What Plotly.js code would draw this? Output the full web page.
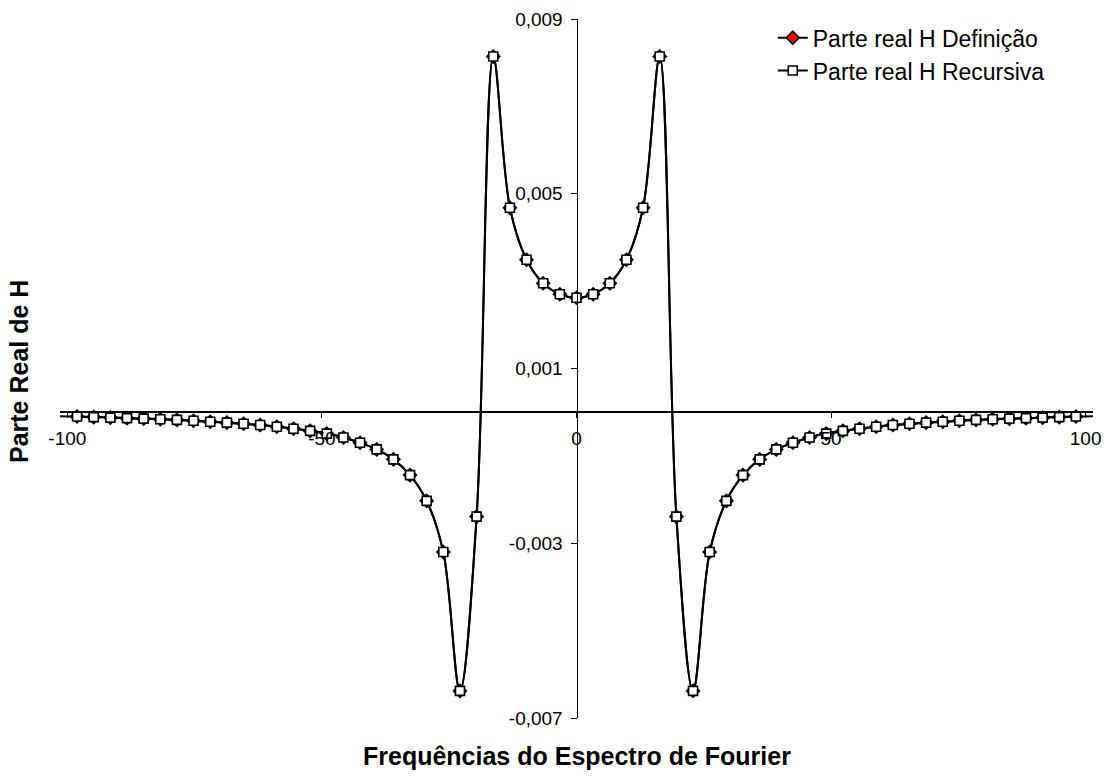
<!DOCTYPE html>
<html>
<head>
<meta charset="utf-8">
<script src="https://cdn.plot.ly/plotly-3.0.1.min.js"></script>
<style>html,body{margin:0;padding:0;background:#fff;}#chart{width:1112px;height:776px;}</style>
</head>
<body>
<div id="chart"></div>
<script>
// Frequencies (x) of the Fourier spectrum
const freq = [-98.1, -94.83, -91.56, -88.29, -85.02, -81.75, -78.48, -75.21, -71.94, -68.67,
  -65.4, -62.13, -58.86, -55.59, -52.32, -49.05, -45.78, -42.51, -39.24, -35.97,
  -32.7, -29.43, -26.16, -22.89, -19.62, -16.35, -13.08, -9.81, -6.54, -3.27,
  0,
  3.27, 6.54, 9.81, 13.08, 16.35, 19.62, 22.89, 26.16, 29.43, 32.7,
  35.97, 39.24, 42.51, 45.78, 49.05, 52.32, 55.59, 58.86, 62.13, 65.4,
  68.67, 71.94, 75.21, 78.48, 81.75, 85.02, 88.29, 91.56, 94.83, 98.1];

// Real part of H (definition and recursive give the same values)
const realH = [-0.000100, -0.000112, -0.000124, -0.000136, -0.000148, -0.000160, -0.000176, -0.000196, -0.000218, -0.000240,
  -0.000264, -0.000294, -0.000332, -0.000378, -0.000428, -0.000490, -0.000578, -0.000700, -0.000852, -0.001080,
  -0.001440, -0.002030, -0.003200, -0.006380, -0.002390, 0.008140, 0.004680, 0.003490, 0.002950, 0.002700,
  0.002620,
  0.002700, 0.002950, 0.003490, 0.004680, 0.008140, -0.002390, -0.006380, -0.003200, -0.002030, -0.001440,
  -0.001080, -0.000852, -0.000700, -0.000578, -0.000490, -0.000428, -0.000378, -0.000332, -0.000294, -0.000264,
  -0.000240, -0.000218, -0.000196, -0.000176, -0.000160, -0.000148, -0.000136, -0.000124, -0.000112, -0.000100];

// Extra points of the "Definição" series lying just beyond the axis ends
const edgeFreq = [-104.64, 104.64];
const edgeRealH = [-0.000090, -0.000090];

const xTickVals = [-100, -50, 0, 50, 100];
const xTickText = ['-100', '-50', '0', '50', '100'];
const yTickVals = [-0.007, -0.003, 0.001, 0.005, 0.009];
const yTickText = ['-0,007', '-0,003', '0,001', '0,005', '0,009'];

const seriesNames = ['Parte real H Definição', 'Parte real H Recursiva'];

const defX = [edgeFreq[0]].concat(freq, [edgeFreq[1]]);
const defY = [edgeRealH[0]].concat(realH, [edgeRealH[1]]);

const FONT = 'Liberation Sans, Arial, sans-serif';
const xRange = [-101.45, 101.45];
const yRange = [-0.007, 0.009];

const traces = [
  {
    x: defX, y: defY, name: seriesNames[0], type: 'scatter', mode: 'lines+markers',
    line: {color: '#000', width: 2, shape: 'spline', smoothing: 1},
    marker: {symbol: 'diamond', size: 10, color: '#ff0000', line: {color: '#000', width: 1.5}},
    legendgroup: 'a'
  },
  {
    x: freq, y: realH, name: seriesNames[1], type: 'scatter', mode: 'lines+markers',
    line: {color: '#000', width: 2, shape: 'spline', smoothing: 1},
    marker: {symbol: 'square', size: 9, color: '#ffffff', line: {color: '#000', width: 1.6}},
    legendgroup: 'b'
  }
];

const layout = {
  width: 1112, height: 776,
  margin: {l: 60, r: 19, t: 19, b: 58},
  paper_bgcolor: '#fff', plot_bgcolor: '#fff',
  font: {family: FONT, color: '#000'},
  separators: ',.',
  showlegend: true,
  legend: {
    x: 0.69, y: 1.004, xanchor: 'left', yanchor: 'top',
    bgcolor: 'rgba(0,0,0,0)', font: {family: FONT, size: 23, color: '#000'},
    traceorder: 'normal', tracegroupgap: 1
  },
  xaxis: {
    range: xRange, anchor: 'free', position: (0 - yRange[0]) / (yRange[1] - yRange[0]),
    showgrid: false, zeroline: false,
    showline: true, linecolor: '#000', linewidth: 2,
    ticks: 'outside', ticklen: 5, tickwidth: 1, tickcolor: '#000',
    ticklabelstandoff: 4,
    tickmode: 'array', tickvals: xTickVals, ticktext: xTickText,
    tickfont: {family: FONT, size: 19, color: '#000'}
  },
  yaxis: {
    range: yRange, anchor: 'free', position: (0 - xRange[0]) / (xRange[1] - xRange[0]),
    showgrid: false, zeroline: false,
    showline: true, linecolor: '#000', linewidth: 1,
    ticks: 'outside', ticklen: 6, tickwidth: 1, tickcolor: '#000',
    ticklabelstandoff: 4,
    tickmode: 'array', tickvals: yTickVals, ticktext: yTickText,
    tickfont: {family: FONT, size: 19, color: '#000'}
  },
  annotations: [
    {text: '<b>Frequências do Espectro de Fourier</b>', xref: 'paper', yref: 'paper',
     x: 0.5, y: -0.055, xanchor: 'center', yanchor: 'middle', showarrow: false,
     font: {family: FONT, size: 25, color: '#000'}},
    {text: '<b>Parte Real de H</b>', xref: 'paper', yref: 'paper',
     x: -0.039, y: 0.496, xanchor: 'center', yanchor: 'middle', showarrow: false, textangle: -90,
     font: {family: FONT, size: 25, color: '#000'}}
  ]
};

Plotly.newPlot('chart', traces, layout, {displayModeBar: false, staticPlot: true});
</script>
</body>
</html>
